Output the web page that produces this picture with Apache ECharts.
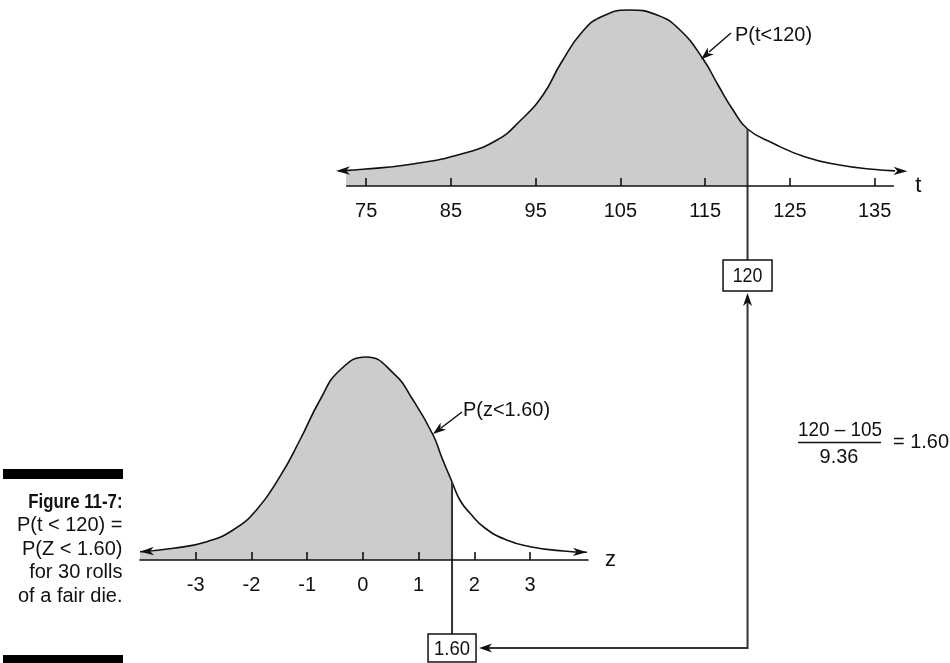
<!DOCTYPE html>
<html><head><meta charset="utf-8">
<script src="https://cdn.jsdelivr.net/npm/echarts@6/dist/echarts.min.js"></script>
<style>html,body{margin:0;padding:0;background:#fff;} #c{width:950px;height:663px;}</style>
</head><body><div id="c"></div>
<script>
// ---- data ----
const tTicks = [75, 85, 95, 105, 115, 125, 135];
const zTicks = [-3, -2, -1, 0, 1, 2, 3];
// sampled curve of t (t value, relative height)
const tCurve = [[71.44,15],[74.61,16.7],[80.52,22],[86.42,32.5],[90.43,46],[93.26,66],[95.86,91],[97.99,123],[100.58,155],[102.95,170],[106.01,176],[109.32,171],[112.03,156],[114.75,127],[116.52,101],[118.29,76],[120.0,57],[122.94,43],[126.83,29],[130.85,21],[134.74,16.7],[138.87,14.7]];
// sampled curve of z (z value, relative height)
const zCurve = [[-4.0,8.3],[-3.4,11.7],[-2.8,18.3],[-2.33,30],[-1.91,50],[-1.49,83.3],[-1.13,120],[-0.77,160],[-0.41,190],[0.06,203],[0.55,186.7],[0.9,160],[1.26,125],[1.42,102],[1.6,78],[1.74,60],[1.92,47],[2.19,32],[2.58,20],[3.0,13.3],[3.6,9],[4.02,7.7]];
const tCut = 120, tCutHeight = 57;
const zCut = 1.6, zCutHeight = 78;
const tAreaLabel = 'P(t<120)';
const zAreaLabel = 'P(z<1.60)';
const tBoxText = '120';
const zBoxText = '1.60';
const formulaNum = '120 \u2013 105';
const formulaDen = '9.36';
const formulaRes = '= 1.60';
const captionLines = ['Figure 11-7:', 'P(t < 120) =', 'P(Z < 1.60)', 'for 30 rolls', 'of a fair die.'];

// ---- drawing ----
const FONT = "'Liberation Sans', Arial, sans-serif";
const INK = '#111';
const chart = echarts.init(document.getElementById('c'), null, {renderer: 'canvas'});

function xAxisCfg(gridIndex, min, max, ticks, name, nameGap) {
  return {
    type: 'value', gridIndex, min, max, z: 10,
    axisLine: {show: true, onZero: false, lineStyle: {color: INK, width: 1.6}},
    axisTick: {show: true, inside: true, length: 8, lineStyle: {color: INK, width: 1.6}, customValues: ticks},
    axisLabel: {show: true, customValues: ticks, margin: 15, color: INK, fontSize: 20, fontFamily: FONT, formatter: v => String(v)},
    splitLine: {show: false},
    name, nameLocation: 'end', nameGap,
    nameTextStyle: {color: INK, fontSize: 22, fontFamily: FONT, verticalAlign: 'middle'}
  };
}

const tShade = tCurve.filter(p => p[0] <= tCut);
const zShade = zCurve.filter(p => p[0] <= zCut);
const SM = 0.5;

chart.setOption({
  animation: false,
  backgroundColor: '#fff',
  grid: [
    {left: 346.7, top: 10, width: 546.6, height: 176, outerBoundsMode: 'none', containLabel: false},
    {left: 140, top: 357, width: 448, height: 203, outerBoundsMode: 'none', containLabel: false}
  ],
  xAxis: [
    xAxisCfg(0, 72.7, 137.2, tTicks, 't', 22),
    xAxisCfg(1, -4, 4.04, zTicks, 'z', 17)
  ],
  yAxis: [
    {type: 'value', gridIndex: 0, min: 0, max: 176, show: false},
    {type: 'value', gridIndex: 1, min: 0, max: 203, show: false}
  ],
  series: [
    {type: 'line', xAxisIndex: 0, yAxisIndex: 0, data: tShade, smooth: SM, symbol: 'none', silent: true,
     lineStyle: {width: 0, opacity: 0}, areaStyle: {color: '#cccccc', opacity: 1}, z: 1},
    {type: 'line', xAxisIndex: 0, yAxisIndex: 0, data: tCurve, smooth: SM, clip: false,
     symbol: 'none', silent: true, lineStyle: {color: INK, width: 1.6}, z: 3},
    {type: 'line', xAxisIndex: 1, yAxisIndex: 1, data: zShade, smooth: SM, symbol: 'none', silent: true,
     lineStyle: {width: 0, opacity: 0}, areaStyle: {color: '#cccccc', opacity: 1}, z: 1},
    {type: 'line', xAxisIndex: 1, yAxisIndex: 1, data: zCurve, smooth: SM, clip: false,
     symbol: 'none', silent: true, lineStyle: {color: INK, width: 1.6}, z: 3}
  ]
});

// ---- annotations, positioned from the chart's own scales ----
const P0 = {xAxisIndex: 0, yAxisIndex: 0}, P1 = {xAxisIndex: 1, yAxisIndex: 1};
const [xT, yT] = chart.convertToPixel(P0, [tCut, tCutHeight]);
const [xZ, yZ] = chart.convertToPixel(P1, [zCut, zCutHeight]);
const CONN = '#333';

function arrowHead(tipX, tipY, fromX, fromY, L, W, color) {
  const dx = tipX - fromX, dy = tipY - fromY, len = Math.hypot(dx, dy);
  const ux = dx / len, uy = dy / len, nx = -uy, ny = ux;
  return {type: 'polygon', silent: true, z: 10,
    shape: {points: [[tipX, tipY], [tipX - L*ux + W*nx, tipY - L*uy + W*ny], [tipX - 0.72*L*ux, tipY - 0.72*L*uy], [tipX - L*ux - W*nx, tipY - L*uy - W*ny]]},
    style: {fill: color}};
}
function curveEndArrows(finder, curve) {
  const n = curve.length;
  const a = chart.convertToPixel(finder, curve[0]), a1 = chart.convertToPixel(finder, curve[1]);
  const b = chart.convertToPixel(finder, curve[n-1]), b1 = chart.convertToPixel(finder, curve[n-2]);
  const fa = [a[0] + 20, a[1] - (a[1] - a1[1]) * 20 / (a1[0] - a[0]) * 0.5];
  const fb = [b[0] - 20, b[1] - (b[1] - b1[1]) * 20 / (b[0] - b1[0]) * 0.5];
  return [arrowHead(a[0], a[1], fa[0], fa[1], 14, 4.2, INK), arrowHead(b[0], b[1], fb[0], fb[1], 14, 4.2, INK)];
}
function line(x1, y1, x2, y2, w, color) {
  return {type: 'line', silent: true, z: 9, shape: {x1, y1, x2, y2}, style: {stroke: color, lineWidth: w}};
}
function text(x, y, s, opts, extra) {
  return Object.assign({type: 'text', silent: true, z: 11, x, y,
    style: Object.assign({text: s, fill: INK, fontSize: 20, fontFamily: FONT, align: 'center', verticalAlign: 'middle'}, opts || {})}, extra || {});
}

const tBoxTop = 260, tBoxH = 31, tBoxW = 49;
const zBoxTop = 634, zBoxH = 28, zBoxW = 48;
const hLineY = 648;

const g = [
  ...curveEndArrows(P0, tCurve),
  ...curveEndArrows(P1, zCurve),
  line(xT, yT, xT, tBoxTop, 2, CONN),
  {type: 'rect', silent: true, z: 10, shape: {x: xT - tBoxW/2, y: tBoxTop, width: tBoxW, height: tBoxH}, style: {fill: '#fff', stroke: INK, lineWidth: 1.5}},
  text(xT, tBoxTop + tBoxH/2 + 1, tBoxText, {fontSize: 21}, {scaleX: 0.85}),
  {type: 'polyline', silent: true, z: 9, shape: {points: [[xT, tBoxTop + tBoxH + 10], [xT, hLineY], [xZ + zBoxW/2 + 12, hLineY]]}, style: {stroke: CONN, lineWidth: 2, fill: null}},
  arrowHead(xT, tBoxTop + tBoxH + 2, xT, tBoxTop + tBoxH + 30, 13, 4.5, INK),
  arrowHead(xZ + zBoxW/2 + 3, hLineY, xZ + zBoxW/2 + 40, hLineY, 13, 4.5, INK),
  line(xZ, yZ, xZ, zBoxTop, 2, CONN),
  {type: 'rect', silent: true, z: 10, shape: {x: xZ - zBoxW/2, y: zBoxTop, width: zBoxW, height: zBoxH}, style: {fill: '#fff', stroke: INK, lineWidth: 1.5}},
  text(xZ, zBoxTop + zBoxH/2 + 1, zBoxText, {fontSize: 21}, {scaleX: 0.88}),
  line(731, 33, 709, 52, 1.5, INK),
  arrowHead(701, 59.5, 731, 33, 13, 4.5, INK),
  text(735, 35, tAreaLabel, {align: 'left', fontSize: 21}, {scaleX: 0.95}),
  line(462, 412, 441, 428, 1.5, INK),
  arrowHead(433, 434, 462, 412, 13, 4.5, INK),
  text(463, 410, zAreaLabel, {align: 'left', fontSize: 21}, {scaleX: 0.95}),
  text(840, 430, formulaNum, {fontSize: 21}, {scaleX: 0.9}),
  line(798, 442.5, 881, 442.5, 1.5, INK),
  text(839, 457.5, formulaDen, {fontSize: 21}, {scaleX: 0.95}),
  text(893, 442, formulaRes, {align: 'left', fontSize: 21}, {scaleX: 0.95}),
  {type: 'rect', silent: true, z: 10, shape: {x: 3, y: 469, width: 120, height: 10}, style: {fill: '#000'}},
  {type: 'rect', silent: true, z: 10, shape: {x: 3, y: 655, width: 120, height: 8}, style: {fill: '#000'}}
];
const capY = [502, 525.5, 549, 572.5, 596.5];
captionLines.forEach((s, i) => {
  if (i === 0) {
    g.push(text(122.5, capY[i], s, {align: 'right', fontWeight: 'bold', fontSize: 21}, {scaleX: 0.8}));
  } else {
    g.push(text(122.5, capY[i], s, {align: 'right'}));
  }
});
chart.setOption({graphic: g});
</script>
</body></html>
